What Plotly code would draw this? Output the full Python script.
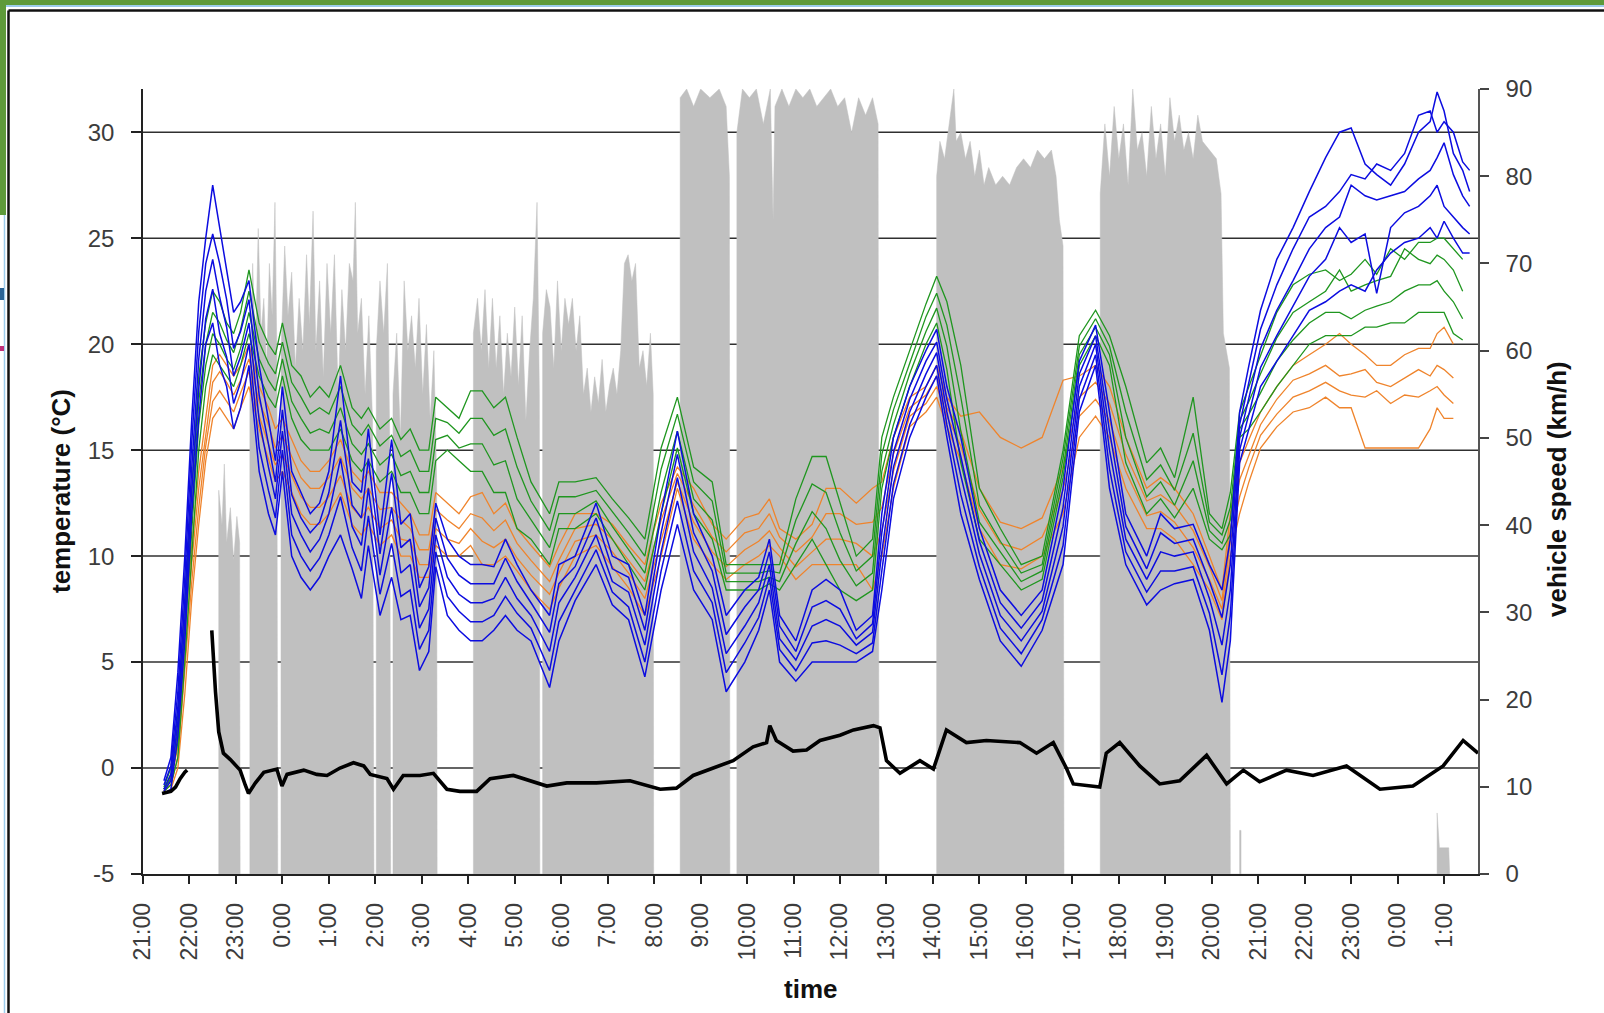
import plotly.graph_objects as go

# ---------------- data ----------------
# time axis: hours elapsed since 21:00 on the first day
hour_ticks = list(range(29))
hour_labels = ["21:00", "22:00", "23:00", "0:00", "1:00", "2:00", "3:00", "4:00", "5:00",
               "6:00", "7:00", "8:00", "9:00", "10:00", "11:00", "12:00", "13:00", "14:00",
               "15:00", "16:00", "17:00", "18:00", "19:00", "20:00", "21:00", "22:00",
               "23:00", "0:00", "1:00"]
temp_ticks = [-5, 0, 5, 10, 15, 20, 25, 30]
temp_labels = ["-5", "0", "5", "10", "15", "20", "25", "30"]
speed_ticks = [0, 10, 20, 30, 40, 50, 60, 70, 80, 90]

# vehicle speed envelope (km/h)
speed_h = [
    1.63, 1.63, 1.70, 1.75, 1.80, 1.88, 1.95, 2.02, 2.08, 2.09,
    2.30, 2.30, 2.36, 2.42, 2.48, 2.54, 2.60, 2.66, 2.72, 2.78,
    2.84, 2.88, 2.90, 2.97, 2.97, 3.05, 3.12, 3.20, 3.28, 3.36,
    3.44, 3.52, 3.58, 3.66, 3.72, 3.80, 3.88, 3.96, 4.04, 4.12,
    4.20, 4.28, 4.36, 4.44, 4.52, 4.57, 4.62, 4.70, 4.78, 4.86,
    4.94, 4.97, 5.02, 5.02, 5.10, 5.18, 5.26, 5.31, 5.33, 5.38,
    5.38, 5.46, 5.54, 5.62, 5.70, 5.78, 5.86, 5.94, 6.02, 6.10,
    6.18, 6.26, 6.32, 6.33, 7.11, 7.11, 7.20, 7.28, 7.36, 7.44,
    7.52, 7.60, 7.68, 7.76, 7.84, 7.92, 8.00, 8.08, 8.16, 8.24,
    8.32, 8.40, 8.48, 8.53, 8.54, 8.60, 8.60, 8.68, 8.76, 8.84,
    8.92, 9.00, 9.08, 9.16, 9.24, 9.32, 9.40, 9.48, 9.56, 9.64,
    9.72, 9.80, 9.88, 9.96, 10.04, 10.12, 10.20, 10.28, 10.36, 10.44,
    10.52, 10.60, 10.68, 10.76, 10.84, 10.92, 10.98, 10.99, 11.56, 11.56,
    11.70, 11.85, 12.00, 12.20, 12.40, 12.55, 12.62, 12.63, 12.78, 12.78,
    12.90, 13.05, 13.20, 13.35, 13.50, 13.56, 13.60, 13.75, 13.90, 14.05,
    14.20, 14.35, 14.50, 14.65, 14.80, 14.95, 15.10, 15.25, 15.40, 15.55,
    15.70, 15.82, 15.84, 17.08, 17.08, 17.15, 17.25, 17.35, 17.45, 17.50,
    17.60, 17.70, 17.80, 17.90, 18.00, 18.10, 18.20, 18.35, 18.50, 18.65,
    18.80, 18.95, 19.10, 19.25, 19.40, 19.55, 19.65, 19.72, 19.80, 19.82,
    20.60, 20.60, 20.70, 20.80, 20.90, 21.00, 21.10, 21.20, 21.30, 21.40,
    21.50, 21.60, 21.70, 21.80, 21.90, 22.00, 22.10, 22.20, 22.30, 22.40,
    22.50, 22.60, 22.70, 22.80, 22.95, 23.10, 23.20, 23.25, 23.38, 23.40,
    23.60, 23.60, 23.63, 23.63, 27.85, 27.85, 27.90, 28.10, 28.12]
speed_kmh = [
    0, 44, 40, 47, 38, 42, 36, 41, 38, 0,
    0, 55, 70, 60, 74, 62, 66, 58, 70, 64,
    77, 60, 0, 0, 60, 72, 64, 69, 58, 66,
    60, 71, 63, 76, 60, 68, 57, 70, 62, 71,
    55, 67, 60, 70, 68, 77, 62, 66, 55, 64,
    52, 0, 0, 60, 68, 62, 70, 50, 0, 0,
    55, 62, 50, 68, 60, 64, 58, 66, 55, 63,
    52, 60, 45, 0, 0, 62, 66, 60, 67, 58,
    66, 58, 64, 55, 62, 57, 65, 56, 64, 52,
    60, 66, 77, 55, 0, 0, 62, 67, 65, 58,
    68, 60, 66, 63, 66, 60, 64, 55, 58, 53,
    57, 54, 59, 53, 56, 58, 55, 60, 70, 71,
    68, 70, 58, 60, 56, 62, 55, 0, 0, 89,
    90, 88, 90, 89, 90, 88, 80, 0, 0, 85,
    90, 89, 90, 86, 90, 75, 88, 90, 88, 90,
    89, 90, 88, 89, 90, 88, 89, 85, 89, 87,
    89, 86, 0, 0, 80, 84, 82, 86, 90, 84,
    85, 82, 84, 80, 83, 79, 81, 79, 80, 79,
    81, 82, 81, 83, 82, 83, 80, 75, 72, 0,
    0, 78, 86, 80, 88, 82, 86, 79, 90, 83,
    85, 80, 88, 82, 86, 80, 89, 84, 87, 83,
    85, 82, 87, 84, 83, 82, 78, 62, 58, 0,
    0, 5, 5, 0, 0, 7, 3, 3, 0]

# ambient temperature (black line)
ambient_h = [
    0.41, 0.5, 0.6, 0.7, 0.8, 0.9, 0.95, None, 1.48, 1.52,
    1.56, 1.63, 1.73, 1.88, 2.09, 2.2, 2.27, 2.42, 2.6, 2.88,
    2.99, 3.1, 3.46, 3.74, 3.96, 4.24, 4.53, 4.75, 4.89, 5.25,
    5.39, 5.6, 5.96, 6.25, 6.54, 6.82, 7.18, 7.47, 7.97, 8.69,
    9.12, 9.76, 10.48, 11.13, 11.48, 11.84, 12.27, 12.7, 13.13, 13.42,
    13.49, 13.63, 13.99, 14.28, 14.57, 15.0, 15.29, 15.72, 15.86, 16.0,
    16.29, 16.72, 17.01, 17.29, 17.72, 18.15, 18.87, 19.23, 19.59, 19.87,
    20.02, 20.59, 20.73, 21.02, 21.45, 21.88, 22.31, 22.89, 23.32, 23.68,
    24.03, 24.61, 25.18, 25.9, 26.62, 27.33, 27.98, 28.41, 28.73]
ambient_t = [
    -1.2, -1.15, -1.1, -0.9, -0.5, -0.2, -0.1, None, 6.5, 4.8,
    3.6, 1.7, 0.7, 0.4, -0.1, -0.8, -1.2, -0.7, -0.2, -0.05,
    -0.85, -0.3, -0.1, -0.3, -0.35, 0.0, 0.25, 0.1, -0.3, -0.5,
    -1.0, -0.35, -0.35, -0.25, -1.0, -1.1, -1.1, -0.5, -0.35, -0.85,
    -0.7, -0.7, -0.6, -1.0, -0.95, -0.35, 0.0, 0.35, 1.0, 1.2,
    2.0, 1.3, 0.8, 0.85, 1.3, 1.55, 1.8, 2.0, 1.9, 0.35,
    -0.25, 0.35, -0.05, 1.8, 1.2, 1.3, 1.2, 0.7, 1.2, 0.0,
    -0.75, -0.9, 0.7, 1.2, 0.1, -0.75, -0.6, 0.6, -0.75, -0.1,
    -0.65, -0.1, -0.35, 0.1, -1.0, -0.85, 0.1, 1.3, 0.7]

# common sampling times of the sensor temperature traces
sensor_h = [
    0.45, 0.6, 0.75, 0.9, 1.05, 1.2, 1.35, 1.5, 1.65, 1.8,
    1.95, 2.1, 2.28, 2.5, 2.7, 2.85, 3.0, 3.2, 3.4, 3.6,
    3.8, 4.0, 4.25, 4.5, 4.7, 4.85, 5.1, 5.35, 5.55, 5.75,
    5.95, 6.15, 6.3, 6.55, 6.8, 7.05, 7.3, 7.55, 7.8, 8.05,
    8.35, 8.75, 8.95, 9.3, 9.75, 10.1, 10.45, 10.8, 11.15, 11.5,
    11.85, 12.25, 12.55, 12.95, 13.25, 13.48, 13.7, 14.05, 14.4, 14.7,
    15.0, 15.35, 15.7, 15.9, 16.15, 16.5, 16.85, 17.08, 17.3, 17.6,
    18.0, 18.45, 18.9, 19.35, 19.8, 20.15, 20.5, 20.8, 21.15, 21.6,
    21.9, 22.2, 22.6, 22.95, 23.22, 23.4, 23.6, 23.8, 24.05, 24.4,
    24.75, 25.1, 25.45, 25.75, 26.0, 26.3, 26.55, 26.85, 27.15, 27.45,
    27.7, 27.85, 28.0, 28.2, 28.4, 28.55]

blue_1 = [
    -0.6, 0.5, 4.5, 10.0, 16.5, 22.0, 25.0, 27.5, 25.5, 23.5,
    21.5, 22.0, 23.0, 19.0, 16.5, 14.5, 18.0, 14.0, 13.0, 12.0,
    12.5, 14.0, 18.5, 13.5, 13.0, 16.0, 11.0, 15.5, 11.5, 12.0,
    8.5, 9.5, 12.5, 10.8, 10.0, 9.6, 9.6, 9.5, 10.8, 9.6,
    8.4, 7.2, 9.6, 10.0, 12.5, 10.0, 9.6, 7.2, 12.0, 15.9,
    12.0, 10.0, 7.2, 8.4, 9.0, 10.8, 7.2, 6.0, 8.4, 8.9,
    8.4, 6.5, 7.2, 12.0, 15.6, 18.0, 19.7, 20.7, 18.0, 15.6,
    11.3, 8.4, 7.2, 8.4, 13.2, 19.2, 20.9, 16.8, 12.0, 10.0,
    12.0, 11.3, 11.5, 9.6, 8.4, 10.8, 16.8, 19.0, 21.6, 24.0,
    25.5, 27.2, 28.8, 30.0, 30.2, 28.5, 28.0, 27.5, 28.5, 30.0,
    30.5, 31.9, 31.0, 29.0, 28.2, 27.2]
blue_2 = [
    -0.8, 0.1, 3.6, 9.0, 15.4, 20.6, 23.8, 25.2, 23.8, 22.1,
    19.8, 20.6, 22.1, 17.6, 15.3, 13.5, 16.9, 12.9, 11.8, 11.1,
    11.6, 13.0, 16.4, 12.4, 11.8, 14.6, 10.1, 13.9, 10.4, 10.8,
    7.6, 8.5, 11.8, 9.9, 9.1, 8.7, 8.7, 8.7, 9.9, 8.8,
    7.8, 6.4, 8.7, 9.5, 11.8, 9.4, 9.0, 6.5, 11.1, 14.8,
    11.1, 9.3, 6.3, 7.6, 8.4, 10.2, 6.7, 5.5, 7.6, 7.9,
    7.5, 6.1, 6.8, 11.1, 14.9, 17.4, 19.2, 20.1, 17.4, 14.7,
    10.7, 7.8, 6.6, 7.9, 12.3, 18.6, 20.4, 15.9, 11.4, 9.4,
    11.1, 10.6, 10.8, 8.8, 7.1, 9.6, 16.2, 18.2, 20.7, 22.8,
    24.5, 26.0, 26.5, 27.2, 28.0, 27.8, 28.5, 28.2, 29.0, 30.8,
    31.0, 30.0, 30.5, 30.0, 28.6, 28.2]
blue_3 = [
    -1.0, -0.3, 2.9, 8.0, 14.2, 19.3, 22.5, 24.0, 22.2, 20.8,
    18.5, 19.4, 21.0, 16.4, 14.2, 12.7, 15.9, 12.0, 11.0, 10.2,
    10.8, 12.0, 14.6, 11.4, 10.5, 13.2, 9.1, 12.3, 9.2, 9.6,
    6.6, 7.5, 11.0, 9.0, 8.2, 7.8, 7.8, 8.0, 9.0, 8.0,
    7.2, 5.5, 7.8, 9.0, 11.0, 8.8, 8.3, 5.8, 10.2, 13.7,
    10.2, 8.5, 5.4, 6.7, 7.8, 9.6, 6.1, 5.1, 6.7, 7.0,
    6.7, 5.8, 6.4, 10.2, 14.2, 16.8, 18.6, 19.6, 16.8, 13.8,
    10.1, 7.2, 6.0, 7.4, 11.4, 18.0, 20.0, 15.0, 10.8, 8.9,
    10.2, 10.0, 10.2, 8.0, 5.8, 8.4, 15.6, 17.5, 19.8, 21.6,
    23.0, 24.5, 25.5, 26.0, 27.5, 27.0, 26.8, 27.0, 27.2, 27.8,
    28.2, 28.8, 29.5, 28.0, 27.0, 26.5]
blue_4 = [
    -1.1, -0.6, 2.2, 7.0, 13.1, 17.9, 21.2, 22.6, 20.5, 19.4,
    17.2, 18.2, 20.0, 15.1, 13.1, 11.8, 15.0, 11.0, 10.0, 9.3,
    9.9, 11.0, 12.8, 10.4, 9.3, 11.9, 8.2, 10.6, 8.1, 8.4,
    5.6, 6.5, 10.2, 8.1, 7.4, 6.9, 6.9, 7.2, 8.1, 7.3,
    6.6, 4.6, 6.9, 8.4, 10.3, 8.3, 7.6, 5.0, 9.3, 12.6,
    9.3, 7.8, 4.5, 5.9, 7.1, 9.0, 5.6, 4.6, 5.9, 6.0,
    5.8, 5.4, 5.9, 9.3, 13.4, 16.2, 18.0, 19.0, 16.2, 12.9,
    9.5, 6.6, 5.4, 7.0, 10.5, 17.4, 19.5, 14.1, 10.2, 8.3,
    9.3, 9.3, 9.5, 7.3, 4.4, 7.2, 15.0, 16.7, 18.9, 20.4,
    21.8, 23.2, 24.0, 25.5, 24.8, 25.2, 22.4, 25.5, 26.2, 26.5,
    27.0, 27.5, 26.5, 26.0, 25.5, 25.2]
blue_5 = [
    -1.2, -1.0, 1.5, 6.0, 12.0, 16.5, 20.0, 21.0, 19.0, 18.0,
    16.0, 17.0, 19.0, 14.0, 12.0, 11.0, 14.0, 10.0, 9.0, 8.4,
    9.0, 10.0, 11.0, 9.4, 8.0, 10.5, 7.2, 9.0, 7.0, 7.2,
    4.6, 5.5, 9.5, 7.2, 6.5, 6.0, 6.0, 6.5, 7.2, 6.5,
    6.0, 3.8, 6.0, 7.9, 9.6, 7.7, 7.0, 4.3, 8.4, 11.5,
    8.4, 7.0, 3.6, 5.0, 6.5, 8.4, 5.0, 4.1, 5.0, 5.0,
    5.0, 5.0, 5.5, 8.4, 12.7, 15.6, 17.5, 18.5, 15.6, 12.0,
    8.9, 6.0, 4.8, 6.5, 9.6, 16.8, 19.0, 13.2, 9.6, 7.7,
    8.4, 8.7, 8.9, 6.5, 3.1, 6.0, 14.4, 16.0, 18.0, 19.2,
    20.4, 21.6, 22.0, 22.5, 22.8, 22.5, 23.5, 24.3, 24.8, 25.0,
    25.5, 25.0, 25.8, 25.0, 24.3, 24.3]

green_1 = [
    -0.9, 0.0, 2.5, 8.0, 13.5, 18.5, 21.0, 22.5, 22.0, 21.0,
    20.5, 21.5, 23.5, 21.0, 20.0, 19.5, 21.0, 19.0, 18.5, 17.5,
    18.0, 17.5, 19.0, 17.0, 16.5, 17.0, 16.0, 16.5, 15.5, 16.0,
    15.0, 15.0, 17.5, 17.0, 16.5, 17.8, 17.8, 17.0, 17.5, 15.6,
    13.5, 12.0, 13.5, 13.5, 13.7, 12.7, 11.8, 10.8, 15.1, 17.5,
    14.2, 13.5, 9.6, 9.6, 9.6, 9.6, 9.6, 12.7, 14.7, 14.7,
    12.5, 10.0, 10.8, 15.6, 17.5, 19.7, 21.9, 23.2, 22.0, 19.0,
    13.2, 11.3, 9.6, 10.0, 15.0, 20.4, 21.6, 20.4, 18.0, 14.4,
    15.1, 13.7, 17.5, 12.0, 11.3, 13.0, 16.8, 18.0, 19.5, 21.5,
    22.8, 23.3, 23.5, 23.0, 23.3, 24.0, 23.3, 24.5, 24.0, 24.8,
    24.8, 25.0, 25.0, 24.5, 24.0, None]
green_2 = [
    -1.0, -0.3, 1.8, 7.0, 12.3, 17.3, 20.0, 21.5, 21.0, 20.2,
    19.6, 20.7, 22.5, 20.1, 19.1, 18.6, 20.1, 18.2, 17.5, 16.7,
    17.0, 16.7, 18.0, 16.2, 15.7, 16.2, 15.2, 15.7, 14.7, 15.0,
    14.0, 14.0, 16.5, 16.3, 15.8, 16.5, 16.5, 15.7, 16.0, 14.2,
    12.6, 11.2, 12.8, 12.8, 13.1, 12.1, 11.1, 10.0, 14.1, 16.7,
    13.5, 12.6, 9.2, 9.2, 9.2, 9.3, 9.2, 11.7, 13.4, 13.0,
    11.1, 9.3, 10.0, 14.8, 16.9, 19.1, 21.3, 22.4, 20.9, 17.5,
    12.4, 10.7, 9.2, 9.6, 14.6, 19.9, 21.2, 19.9, 16.8, 13.6,
    14.3, 13.1, 15.8, 11.6, 11.0, 12.3, 16.4, 17.3, 18.6, 20.3,
    21.5, 22.0, 22.5, 23.5, 22.5, 22.8, 23.0, 23.2, 24.5, 24.0,
    23.8, 24.2, 24.0, 23.5, 22.5, None]
green_3 = [
    -1.0, -0.5, 1.2, 6.0, 11.2, 16.2, 19.0, 20.5, 20.0, 19.3,
    18.8, 19.8, 21.5, 19.3, 18.3, 17.8, 19.3, 17.3, 16.5, 15.8,
    16.0, 15.8, 17.0, 15.3, 14.8, 15.3, 14.3, 14.8, 13.8, 14.0,
    13.0, 13.0, 15.5, 15.7, 15.1, 15.3, 15.3, 14.3, 14.5, 12.7,
    11.7, 10.4, 12.0, 12.0, 12.6, 11.4, 10.3, 9.2, 13.0, 15.9,
    12.7, 11.7, 8.8, 8.8, 8.8, 9.0, 8.8, 10.6, 12.1, 11.3,
    9.8, 8.6, 9.2, 14.0, 16.2, 18.6, 20.6, 21.7, 19.9, 15.9,
    11.6, 10.2, 8.8, 9.3, 14.1, 19.5, 20.8, 19.5, 15.6, 12.8,
    13.5, 12.4, 14.5, 11.2, 10.6, 11.7, 16.0, 16.7, 17.7, 19.2,
    20.2, 21.0, 21.5, 21.5, 21.2, 21.6, 21.8, 22.0, 22.5, 22.8,
    22.8, 23.0, 22.5, 22.0, 21.2, None]
green_4 = [
    -1.1, -0.8, 0.5, 5.0, 10.0, 15.0, 18.0, 19.5, 19.0, 18.5,
    18.0, 19.0, 20.5, 18.5, 17.5, 17.0, 18.5, 16.5, 15.5, 15.0,
    15.0, 15.0, 16.0, 14.5, 14.0, 14.5, 13.5, 14.0, 13.0, 13.0,
    12.0, 12.0, 14.5, 15.0, 14.5, 14.0, 14.0, 13.0, 13.0, 11.3,
    10.8, 9.6, 11.3, 11.3, 12.0, 10.8, 9.6, 8.4, 12.0, 15.1,
    12.0, 10.8, 8.4, 8.4, 8.4, 8.7, 8.4, 9.6, 10.8, 9.6,
    8.4, 7.9, 8.4, 13.2, 15.6, 18.0, 20.0, 21.0, 18.8, 14.4,
    10.8, 9.6, 8.4, 8.9, 13.7, 19.0, 20.4, 19.0, 14.4, 12.0,
    12.7, 11.8, 13.2, 10.8, 10.3, 11.0, 15.6, 16.0, 16.8, 18.0,
    19.0, 20.0, 20.4, 20.4, 20.4, 20.8, 20.8, 21.0, 21.0, 21.5,
    21.5, 21.5, 21.5, 20.5, 20.2, None]

orange_1 = [
    -1.0, -0.4, 1.5, 6.5, 10.5, 14.0, 16.5, 19.0, 19.5, 19.0,
    18.5, 19.0, 20.0, 18.0, 17.0, 16.0, 16.5, 15.5, 14.5, 14.0,
    14.0, 14.5, 15.5, 14.0, 13.5, 14.0, 13.0, 13.0, 12.5, 12.0,
    11.0, 11.0, 13.0, 12.5, 12.0, 12.8, 13.0, 12.0, 12.5, 11.3,
    10.5, 9.5, 10.5, 12.0, 12.0, 11.5, 10.5, 9.6, 12.5, 14.2,
    13.2, 11.5, 10.8, 11.8, 12.0, 12.7, 11.3, 10.8, 11.5, 13.2,
    13.2, 12.5, 13.2, 13.5, 15.6, 17.5, 18.0, 19.0, 17.5, 16.6,
    16.8, 15.6, 15.1, 15.6, 18.3, 18.5, 19.0, 18.0, 15.6, 13.2,
    13.7, 13.2, 12.0, 10.0, 8.4, 12.0, 14.4, 15.5, 16.8, 18.0,
    19.0, 19.5, 20.0, 20.5, 20.0, 19.5, 19.0, 19.0, 19.5, 19.8,
    19.8, 20.5, 20.8, 20.0, None, None]
orange_2 = [
    -1.1, -0.6, 1.0, 5.5, 9.7, 13.2, 15.8, 18.2, 18.7, 18.2,
    17.6, 18.3, 19.3, 17.3, 16.2, 15.1, 15.7, 14.7, 13.7, 13.2,
    13.2, 13.7, 14.7, 13.2, 12.7, 13.2, 12.2, 12.3, 11.7, 11.3,
    10.3, 10.3, 12.2, 11.7, 11.3, 12.0, 11.8, 11.2, 11.7, 10.6,
    9.8, 8.8, 9.8, 11.3, 11.5, 10.8, 9.8, 8.8, 11.7, 13.9,
    12.4, 10.9, 10.2, 11.1, 11.3, 12.0, 10.9, 10.2, 10.9, 12.0,
    12.0, 11.5, 11.6, 12.3, 14.8, 17.0, 17.6, 18.5, 17.0, 15.9,
    13.2, 11.6, 11.3, 11.8, 14.2, 17.5, 18.2, 17.2, 14.8, 12.6,
    12.9, 12.4, 11.2, 9.5, 7.9, 11.3, 13.6, 14.8, 16.2, 17.4,
    18.3, 18.6, 19.0, 18.5, 18.6, 18.8, 18.2, 18.0, 18.4, 18.8,
    18.5, 19.0, 18.8, 18.4, None, None]
orange_3 = [
    -1.1, -0.8, 0.5, 4.5, 8.8, 12.3, 15.2, 17.3, 17.8, 17.3,
    16.8, 17.7, 18.7, 16.6, 15.3, 14.3, 14.8, 13.8, 12.8, 12.3,
    12.3, 12.8, 13.8, 12.3, 11.8, 12.3, 11.3, 11.7, 10.8, 10.7,
    9.6, 9.6, 11.3, 10.8, 10.6, 11.3, 10.7, 10.4, 10.8, 9.9,
    9.1, 8.2, 9.2, 10.7, 11.0, 10.2, 9.2, 8.0, 10.8, 13.5,
    11.6, 10.2, 9.5, 10.3, 10.7, 11.2, 10.4, 9.5, 10.2, 10.8,
    10.8, 10.6, 10.0, 11.2, 14.0, 16.6, 17.2, 18.0, 16.6, 15.2,
    12.2, 10.6, 10.3, 10.9, 13.1, 16.6, 17.4, 16.4, 14.0, 11.9,
    12.1, 11.6, 10.4, 8.9, 7.5, 10.7, 12.8, 14.2, 15.7, 16.7,
    17.5, 17.8, 18.2, 17.8, 17.6, 17.5, 17.8, 17.2, 17.6, 17.5,
    17.8, 18.0, 17.6, 17.2, None, None]
orange_4 = [
    -1.2, -1.0, 0.0, 3.5, 8.0, 11.5, 14.5, 16.5, 17.0, 16.5,
    16.0, 17.0, 18.0, 16.0, 14.5, 13.5, 14.0, 13.0, 12.0, 11.5,
    11.5, 12.0, 13.0, 11.5, 11.0, 11.5, 10.5, 11.0, 10.0, 10.0,
    9.0, 9.0, 10.5, 10.0, 10.0, 10.5, 9.6, 9.6, 10.0, 9.3,
    8.4, 7.5, 8.5, 10.0, 10.5, 9.5, 8.5, 7.2, 10.0, 13.2,
    10.8, 9.6, 8.9, 9.6, 10.0, 10.5, 10.0, 8.9, 9.6, 9.6,
    9.6, 9.6, 8.4, 10.0, 13.2, 16.1, 16.8, 17.5, 16.1, 14.5,
    11.3, 9.6, 9.4, 10.0, 12.0, 15.6, 16.6, 15.6, 13.2, 11.3,
    11.3, 10.8, 9.6, 8.4, 7.0, 10.0, 12.0, 13.5, 15.1, 16.1,
    16.8, 17.0, 17.5, 17.0, 17.0, 15.1, 15.1, 15.1, 15.1, 15.1,
    16.0, 17.0, 16.5, 16.5, None, None]

blue_series = [blue_1, blue_2, blue_3, blue_4, blue_5]
green_series = [green_1, green_2, green_3, green_4]
orange_series = [orange_1, orange_2, orange_3, orange_4]

for s in blue_series + green_series + orange_series:
    assert len(s) == len(sensor_h), len(s)
assert len(speed_h) == len(speed_kmh)
assert len(ambient_h) == len(ambient_t)

# ---------------- styling ----------------
W, H = 1604, 1013
ML, MR, MT, MB = 143, 126, 89, 139
PW, PH = W - ML - MR, H - MT - MB
FONT = "Liberation Sans, Arial, sans-serif"

BLUE = "#0c0ce0"
GREEN = "#1f961f"
ORANGE = "#ef842c"
GREY = "#c0c0c0"


def px(x):
    return (x - ML) / PW


def py(y):
    return (H - MB - y) / PH


fig = go.Figure()

# speed (primary y axis, right side) - drawn first, underneath everything
fig.add_trace(go.Scatter(
    x=speed_h, y=speed_kmh, mode="lines", fill="tozeroy",
    fillcolor=GREY, line=dict(color=GREY, width=0.5),
    yaxis="y", hoverinfo="skip"))

for series, color, lw in ((orange_series, ORANGE, 1.3), (green_series, GREEN, 1.3),
                          (blue_series, BLUE, 1.5)):
    for s in series:
        fig.add_trace(go.Scatter(
            x=sensor_h, y=s, mode="lines", yaxis="y2",
            line=dict(color=color, width=lw), connectgaps=False))

fig.add_trace(go.Scatter(
    x=ambient_h, y=ambient_t, mode="lines", yaxis="y2",
    line=dict(color="#000000", width=3.6), connectgaps=False))

xtickfont = dict(family=FONT, size=23, color="#3c3c3c")
ytickfont = dict(family=FONT, size=24, color="#3c3c3c")

fig.update_layout(
    width=W, height=H,
    margin=dict(l=ML, r=MR, t=MT, b=MB, autoexpand=False),
    paper_bgcolor="white", plot_bgcolor="white",
    showlegend=False,
    xaxis=dict(range=[0, 28.73], tickmode="array", tickvals=hour_ticks,
               ticktext=hour_labels, tickangle=-90, ticks="outside", ticklen=8,
               tickwidth=1.5, tickcolor="#222", showline=True, linecolor="#222",
               linewidth=1.5, showgrid=False, zeroline=False, tickfont=xtickfont,
               ticklabelstandoff=10),
    yaxis=dict(range=[0, 90], side="right", tickmode="array", tickvals=speed_ticks,
               ticks="outside", ticklen=9, tickwidth=1.5, tickcolor="#444",
               showline=True, linecolor="#555", linewidth=1.5, showgrid=False,
               zeroline=False, tickfont=ytickfont, ticklabelstandoff=12),
    yaxis2=dict(range=[-5, 32.04], side="left", overlaying="y", tickmode="array",
                tickvals=temp_ticks, ticktext=temp_labels, ticks="outside", ticklen=10,
                tickwidth=1.5, tickcolor="#222", showline=True, linecolor="#222",
                linewidth=1.5, showgrid=False, zeroline=False, tickfont=ytickfont,
                ticklabelstandoff=12),
)

shapes = []
# horizontal grid lines of the temperature axis, beneath the speed bars
for t in temp_ticks[1:]:
    shapes.append(dict(type="line", xref="paper", yref="y2", x0=0, x1=1, y0=t, y1=t,
                       line=dict(color="#303030", width=1.5), layer="below"))

# slide frame decorations
shapes += [
    dict(type="rect", xref="paper", yref="paper", x0=px(0), x1=px(W), y0=py(0), y1=py(5),
         fillcolor="#5e9a3a", line=dict(width=0), layer="above"),
    dict(type="line", xref="paper", yref="paper", x0=px(0), x1=px(W), y0=py(6), y1=py(6),
         line=dict(color="#9cccec", width=2), layer="above"),
    dict(type="rect", xref="paper", yref="paper", x0=px(0), x1=px(6), y0=py(0), y1=py(215),
         fillcolor="#5e9a3a", line=dict(width=0), layer="above"),
    dict(type="line", xref="paper", yref="paper", x0=px(4.5), x1=px(4.5), y0=py(215), y1=py(H),
         line=dict(color="#9cccec", width=1.5), layer="above"),
    dict(type="rect", xref="paper", yref="paper", x0=px(0), x1=px(4), y0=py(288), y1=py(300),
         fillcolor="#2a6496", line=dict(width=0), layer="above"),
    dict(type="rect", xref="paper", yref="paper", x0=px(0), x1=px(4), y0=py(346), y1=py(351),
         fillcolor="#c0307a", line=dict(width=0), layer="above"),
    dict(type="line", xref="paper", yref="paper", x0=px(8.5), x1=px(W), y0=py(10.5), y1=py(10.5),
         line=dict(color="#111", width=2.5), layer="above"),
    dict(type="line", xref="paper", yref="paper", x0=px(8.5), x1=px(8.5), y0=py(10.5), y1=py(H),
         line=dict(color="#111", width=2.5), layer="above"),
]
fig.update_layout(shapes=shapes)

title_font = dict(family=FONT, size=26, color="#111")
fig.add_annotation(text="<b>time</b>", xref="paper", yref="paper", x=px(810), y=py(989),
                   showarrow=False, font=title_font, xanchor="center", yanchor="middle")
fig.add_annotation(text="<b>temperature (°C)</b>", xref="paper", yref="paper", x=px(61),
                   y=py(491), textangle=-90, showarrow=False, font=title_font,
                   xanchor="center", yanchor="middle")
fig.add_annotation(text="<b>vehicle speed (km/h)</b>", xref="paper", yref="paper",
                   x=px(1557), y=py(489), textangle=-90, showarrow=False, font=title_font,
                   xanchor="center", yanchor="middle")

# the page's default 8px body margin would shift the whole figure; remove it
fig.write_html("out.html", config={"displayModeBar": False},
               post_script="document.body.style.margin='0px';")
